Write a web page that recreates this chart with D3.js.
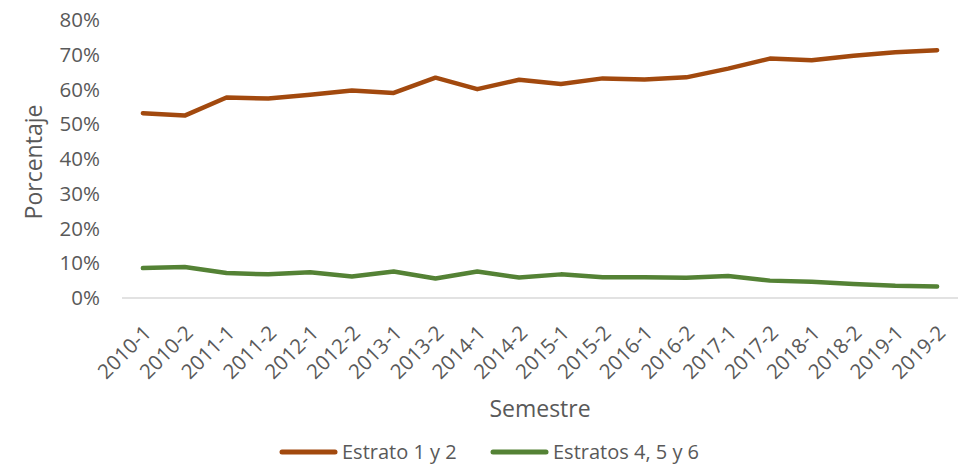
<!DOCTYPE html>
<html>
<head>
<meta charset="utf-8">
<script src="https://cdn.jsdelivr.net/npm/d3@7"></script>
<style>
  body { margin: 0; background: #fff; }
  svg { display: block; font-family: "Open Sans", sans-serif; }
</style>
</head>
<body>
<svg width="963" height="464"></svg>
<script>
// semesters on the x axis
const semesters = ["2010-1","2010-2","2011-1","2011-2","2012-1","2012-2","2013-1","2013-2","2014-1","2014-2",
                   "2015-1","2015-2","2016-1","2016-2","2017-1","2017-2","2018-1","2018-2","2019-1","2019-2"]
// percentage per semester
const estrato12  = [53.2,52.5,57.7,57.4,58.5,59.7,59.0,63.4,60.1,62.8,61.6,63.2,62.9,63.5,66.0,68.9,68.4,69.7,70.7,71.3]
const estrato456 = [8.6,8.9,7.2,6.8,7.4,6.2,7.6,5.6,7.6,5.9,6.8,6.0,6.0,5.8,6.3,5.0,4.7,4.0,3.5,3.3]
const yTicks = [0,10,20,30,40,50,60,70,80]

const series = [
  { name: "Estrato 1 y 2",     values: estrato12,  color: "#A2490E" },
  { name: "Estratos 4, 5 y 6", values: estrato456, color: "#548235" }
]

const svg = d3.select("svg")
const margin = { top: 20, right: 5, bottom: 166, left: 122 }
const width  = 963, height = 464
const textColor = "#595959"

const x = d3.scalePoint().domain(semesters)
  .range([margin.left, width - margin.right]).padding(0.5)
const y = d3.scaleLinear().domain([0, 80])
  .range([height - margin.bottom, margin.top])

// baseline
svg.append("line")
  .attr("x1", margin.left).attr("x2", width - margin.right)
  .attr("y1", y(0)).attr("y2", y(0))
  .attr("stroke", "#d9d9d9").attr("stroke-width", 1.5)

// y axis labels
const yAxis = svg.append("g")
  .attr("transform", `translate(${margin.left},0)`)
  .call(d3.axisLeft(y).tickValues(yTicks).tickSize(0).tickPadding(22).tickFormat(d => d + "%"))
yAxis.select(".domain").remove()
yAxis.selectAll("text").attr("fill", textColor).style("font-size", "20.5px")
  .style("font-family", "Open Sans")

// x axis labels rotated
const xAxis = svg.append("g")
  .attr("transform", `translate(0,${y(0)})`)
  .call(d3.axisBottom(x).tickSize(0).tickPadding(0))
xAxis.select(".domain").remove()
xAxis.selectAll("text")
  .attr("fill", textColor).style("font-size", "20.5px").style("font-family", "Open Sans")
  .attr("text-anchor", "end")
  .attr("dy", "0.35em")
  .attr("transform", "translate(4,31) rotate(-45)")

// lines
const line = d3.line().x((d, i) => x(semesters[i])).y(d => y(d))
svg.append("g").selectAll("path")
  .data(series).join("path")
    .attr("d", d => line(d.values))
    .attr("fill", "none")
    .attr("stroke", d => d.color)
    .attr("stroke-width", 4.5)
    .attr("stroke-linecap", "round")
    .attr("stroke-linejoin", "round")

// axis titles
svg.append("text")
  .attr("x", 540).attr("y", 417)
  .attr("text-anchor", "middle").attr("fill", textColor)
  .style("font-size", "23px")
  .text("Semestre")
svg.append("text")
  .attr("transform", "translate(42,162) rotate(-90)")
  .attr("text-anchor", "middle").attr("fill", textColor)
  .style("font-size", "23px")
  .text("Porcentaje")

// legend
const legendX = [282, 493]
const legend = svg.append("g")
series.forEach((s, i) => {
  const row = legend.append("g").attr("transform", `translate(${legendX[i]},452)`)
  row.append("line")
    .attr("x1", 0).attr("x2", 53)
    .attr("stroke", s.color).attr("stroke-width", 5).attr("stroke-linecap", "round")
  row.append("text")
    .attr("x", 60).attr("y", 0).attr("dy", "0.35em")
    .attr("fill", textColor).style("font-size", "20px")
    .text(s.name)
})
</script>
</body>
</html>
